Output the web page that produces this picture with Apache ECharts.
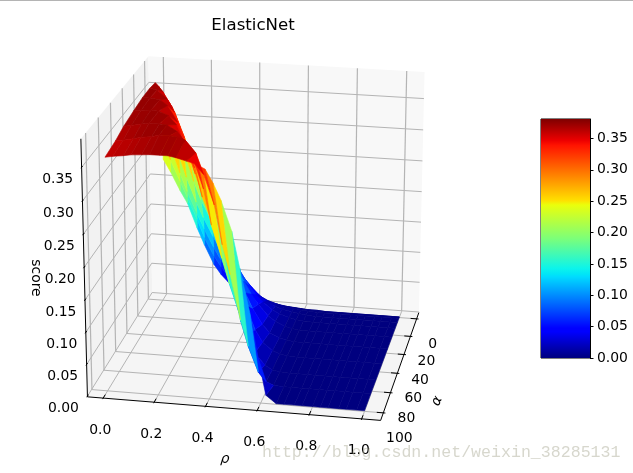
<!DOCTYPE html>
<html><head><meta charset="utf-8">
<style>html,body{margin:0;padding:0;background:#fff}#c{width:633px;height:473px}</style>
<script src="https://cdn.jsdelivr.net/npm/echarts@6/dist/echarts.min.js"></script>
</head><body><div id="c"></div>
<script>
// ---- data ----
const rhoValues = [0.01,0.04,0.08,0.11,0.15,0.18,0.22,0.25,0.28,0.32,0.35,0.39,0.42,0.45,0.49,0.52,0.56,0.59,0.62,0.66,0.69,0.73,0.76,0.80,0.83,0.86,0.90,0.93,0.97,1.00];
const alphaValues = [0.01,0.04,0.4,1.6,6.3,13,23,36,52,69,83,100];
const scoreA0 = [.235,.215,.185,.165,.125,.098,.066,.05,.038,.026,.018,.012,.008,.006,.004,.003,.002,.001,.001,.001,0,0,0,0,0,0,0,0,0,0];
const scoreA1 = [.26,.235,.2,.175,.14,.11,.08,.063,.048,.033,.024,.016,.011,.008,.005,.004,.003,.002,.001,.001,0,0,0,0,0,0,0,0,0,0];
const scoreA2 = [.295,.26,.215,.185,.15,.125,.095,.075,.058,.04,.03,.02,.014,.01,.007,.005,.003,.002,.001,0,0,0,0,0,0,0,0,0,0,0];
const scoreA3 = [.33,.3,.245,.21,.17,.145,.115,.095,.075,.055,.04,.028,.02,.014,.009,.006,.004,.002,.001,0,0,0,0,0,0,0,0,0,0,0];
const scoreA4 = [.36,.34,.30,.26,.21,.18,.15,.125,.105,.08,.06,.042,.03,.02,.012,.008,.005,.003,.001,0,0,0,0,0,0,0,0,0,0,0];
const scoreA5 = [.373,.36,.335,.305,.25,.22,.175,.15,.125,.10,.08,.055,.04,.028,.016,.01,.005,.002,.001,0,0,0,0,0,0,0,0,0,0,0];
const scoreA6 = [.375,.373,.36,.34,.30,.26,.215,.18,.15,.125,.10,.075,.055,.038,.02,.012,.005,.002,0,0,0,0,0,0,0,0,0,0,0,0];
const scoreA7 = [.375,.375,.373,.365,.34,.31,.26,.225,.195,.155,.13,.10,.075,.05,.025,.012,.005,.002,0,0,0,0,0,0,0,0,0,0,0,0];
const scoreA8 = [.372,.374,.375,.374,.368,.355,.32,.29,.245,.205,.17,.14,.11,.08,.04,.02,.008,.003,.001,0,0,0,0,0,0,0,0,0,0,0];
const scoreA9 = [.368,.37,.373,.375,.375,.374,.365,.35,.325,.28,.225,.175,.135,.10,.055,.028,.01,.003,.001,0,0,0,0,0,0,0,0,0,0,0];
const scoreA10 = [.362,.364,.367,.37,.372,.375,.375,.374,.37,.352,.32,.275,.215,.17,.10,.06,.02,.006,.001,0,0,0,0,0,0,0,0,0,0,0];
const scoreA11 = [.358,.36,.362,.364,.365,.366,.366,.366,.364,.36,.357,.35,.33,.305,.26,.205,.135,.07,.012,0,0,0,0,0,0,0,0,0,0,0];
const scoreRows = [scoreA0,scoreA1,scoreA2,scoreA3,scoreA4,scoreA5,scoreA6,scoreA7,scoreA8,scoreA9,scoreA10,scoreA11];
const rhoTicks = [0,0.2,0.4,0.6,0.8,1];
const rhoTickLabels = ['0.0','0.2','0.4','0.6','0.8','1.0'];
const alphaTicks = [0,20,40,60,80,100];
const alphaTickLabels = ['0','20','40','60','80','100'];
const scoreTicks = [0,0.05,0.1,0.15,0.2,0.25,0.3,0.35];
const scoreTickLabels = ['0.00','0.05','0.10','0.15','0.20','0.25','0.30','0.35'];
const scoreMax = 0.381;

// ---- 3D box -> screen scale, fitted on the corners of the box ----
const RHO = [-0.062, 1.072], ALPHA = [-7.3, 107.3], Z = [-0.001, 0.392];
const corners = [
  [0,1,0, 87,398],[1,1,0, 380,420],[1,0,0, 419,313],[0,0,0, 153,292],
  [0,0,1, 147,57],[1,0,1, 425,72],[0,1,1, 82,138]
];
function fit(cs){
  const A=[],b=[];
  cs.forEach(([u,v,w,x,y])=>{
    A.push([u,v,w,1,0,0,0,0,-x*u,-x*v,-x*w]);b.push(x);
    A.push([0,0,0,0,u,v,w,1,-y*u,-y*v,-y*w]);b.push(y);
  });
  const n=11,M=[];
  for(let i=0;i<n;i++){M.push([]);for(let j=0;j<n;j++){let s=i===j?1e-9:0;A.forEach(r=>s+=r[i]*r[j]);M[i].push(s);}
    let s=0;A.forEach((r,k)=>s+=r[i]*b[k]);M[i].push(s);}
  for(let i=0;i<n;i++){let p=i;for(let k=i+1;k<n;k++)if(Math.abs(M[k][i])>Math.abs(M[p][i]))p=k;
    [M[i],M[p]]=[M[p],M[i]];
    for(let k=0;k<n;k++)if(k!==i){const f=M[k][i]/M[i][i];for(let j=i;j<=n;j++)M[k][j]-=f*M[i][j];}}
  return M.map((r,i)=>r[n]/r[i]);
}
const P = fit(corners);
function depth(rho,al,z){const u=(rho-RHO[0])/(RHO[1]-RHO[0]),v=(al-ALPHA[0])/(ALPHA[1]-ALPHA[0]),w=(z-Z[0])/(Z[1]-Z[0]);
  return P[8]*u+P[9]*v+P[10]*w+1;}
function project(rho,al,z){const u=(rho-RHO[0])/(RHO[1]-RHO[0]),v=(al-ALPHA[0])/(ALPHA[1]-ALPHA[0]),w=(z-Z[0])/(Z[1]-Z[0]);
  const d=P[8]*u+P[9]*v+P[10]*w+1;
  return [(P[0]*u+P[1]*v+P[2]*w+P[3])/d,(P[4]*u+P[5]*v+P[6]*w+P[7])/d];}

// jet colormap
const jetStops=[[0,'#00007f'],[0.11,'#0000ff'],[0.125,'#0000ff'],[0.34,'#00dbff'],[0.35,'#00e5f7'],[0.375,'#0cf4eb'],[0.5,'#7cff79'],[0.64,'#eaff0c'],[0.66,'#ffdf00'],[0.89,'#ff1300'],[0.91,'#ed0000'],[1,'#7f0000']];
const jetRGB=jetStops.map(([t,c])=>[t,parseInt(c.slice(1,3),16),parseInt(c.slice(3,5),16),parseInt(c.slice(5,7),16)]);
function jet(t){t=Math.max(0,Math.min(1,t));
  for(let i=1;i<jetRGB.length;i++){if(t<=jetRGB[i][0]){const a=jetRGB[i-1],b=jetRGB[i],f=(t-a[0])/(b[0]-a[0]);
    return 'rgb('+[1,2,3].map(k=>Math.round(a[k]+f*(b[k]-a[k]))).join(',')+')';}}
  return '#7f0000';}

// surface cells, far ones first
const cells=[];
for(let i=0;i<alphaValues.length-1;i++)for(let j=0;j<rhoValues.length-1;j++){
  const q=[[j,i],[j+1,i],[j+1,i+1],[j,i+1]].map(([c,r])=>[rhoValues[c],alphaValues[r],scoreRows[r][c]]);
  const mz=q.reduce((s,p)=>s+p[2],0)/4, md=q.reduce((s,p)=>s+depth(p[0],p[1],p[2]),0)/4;
  cells.push({q,mz,md});
}
const sign=depth(0,ALPHA[0],0)>depth(0,ALPHA[1],0)?-1:1;
cells.sort((a,b)=>sign*(a.md-b.md));

// box items
const GRID='#b4b4b4',BLACK='#000';
const boxItems=[];
const poly=(pts,fill)=>boxItems.push({t:'poly',pts,fill});
const line=(a,b,c,w)=>boxItems.push({t:'line',a,b,c,w});
const A0=ALPHA[0],A1=ALPHA[1],R0=RHO[0],R1=RHO[1],Z0=Z[0],Z1=Z[1];
poly([[R0,A0,Z0],[R0,A1,Z0],[R0,A1,Z1],[R0,A0,Z1]],'#f2f2f2');
poly([[R0,A0,Z0],[R1,A0,Z0],[R1,A0,Z1],[R0,A0,Z1]],'#f8f8f8');
poly([[R0,A0,Z0],[R1,A0,Z0],[R1,A1,Z0],[R0,A1,Z0]],'#f5f5f5');
rhoTicks.forEach(r=>{line([r,A1,Z0],[r,A0,Z0],GRID,1);line([r,A0,Z0],[r,A0,Z1],GRID,1.2);});
alphaTicks.forEach(a=>{line([R1,a,Z0],[R0,a,Z0],GRID,1);line([R0,a,Z0],[R0,a,Z1],GRID,1.2);});
scoreTicks.forEach(s=>{line([R0,A1,s],[R0,A0,s],GRID,1);line([R0,A0,s],[R1,A0,s],GRID,1);});
const axisItems=[];
const aline=(a,b)=>axisItems.push({a,b});
aline([R0,A1,Z0],[R1,A1,Z0]);aline([R1,A1,Z0],[R1,A0,Z0]);aline([R0,A1,Z0],[R0,A1,Z1]);
rhoTicks.forEach(r=>aline([r,A1-3.5,Z0],[r,A1+1,Z0]));
alphaTicks.forEach(a=>aline([R1-0.025,a,Z0],[R1+0.008,a,Z0]));
scoreTicks.forEach(s=>aline([R0,A1-1.5,s],[R0,A1+1,s]));

// text items: each tick label sits at a pixel offset from its tick
const textItems=[];
rhoTicks.forEach((r,i)=>{const p=project(r,A1,Z0);textItems.push({s:rhoTickLabels[i],x:p[0]-3,y:p[1]+32});});
alphaTicks.forEach((a,i)=>{const p=project(R1,a,Z0);textItems.push({s:alphaTickLabels[i],x:p[0]+16,y:p[1]+25.5});});
scoreTicks.forEach((s,i)=>{const p=project(R0,A1,s);textItems.push({s:scoreTickLabels[i],x:p[0]-24,y:p[1]+12});});
textItems.push({s:'\u03c1',x:225,y:459,it:true,rot:-0.1});
textItems.push({s:'\u03b1',x:437,y:401,it:true,rot:1.15});
textItems.push({s:'score',x:36,y:278,rot:-Math.PI/2});

const toPts=(api,pts)=>pts.map(p=>{const s=project(p[0],p[1],p[2]);return api.coord(s);});
const base={type:'custom',xAxisIndex:0,yAxisIndex:0,silent:true,animation:false,clip:false,coordinateSystem:'cartesian2d'};
const idx=a=>a.map((_,i)=>[i,i]);

const option={
  animation:false,
  backgroundColor:'#fff',
  title:{text:'ElasticNet',left:248,top:12,textAlign:'center',textStyle:{fontFamily:'DejaVu Sans',fontSize:16.6,fontWeight:'normal',color:'#000'}},
  grid:[
    {left:0,top:0,width:633,height:473,show:false},
    {left:541,top:119,width:49,height:239,show:true,borderColor:'#000',borderWidth:1,backgroundColor:'transparent'}
  ],
  xAxis:[
    {gridIndex:0,type:'value',min:0,max:633,show:false},
    {gridIndex:1,type:'category',data:['score'],show:false}
  ],
  yAxis:[
    {gridIndex:0,type:'value',min:0,max:473,inverse:true,show:false},
    {gridIndex:1,type:'value',min:0,max:scoreMax,interval:0.05,position:'right',
     axisLine:{show:true,lineStyle:{color:'#000'}},axisTick:{show:true,length:3.5,lineStyle:{color:'#000'}},
     splitLine:{show:false},
     axisLabel:{show:true,color:'#000',fontFamily:'DejaVu Sans',fontSize:13.9,margin:7,showMaxLabel:false,formatter:v=>v.toFixed(2)}}
  ],
  graphic:[
    {type:'rect',left:0,top:0,shape:{width:633,height:1},style:{fill:'#b4b4b4'},silent:true},
    {type:'text',left:262,top:444,z:100,silent:true,style:{text:'http://blog.csdn.net/weixin_38285131',font:'16.6px "Liberation Mono"',fill:'rgba(175,175,155,0.5)'}}
  ],
  series:[
    Object.assign({},base,{name:'box',z:1,data:idx(boxItems),renderItem(params,api){
      const it=boxItems[params.dataIndex];
      if(it.t==='poly')return{type:'polygon',shape:{points:toPts(api,it.pts)},style:{fill:it.fill}};
      const [a,b]=toPts(api,[it.a,it.b]);
      return{type:'line',shape:{x1:a[0],y1:a[1],x2:b[0],y2:b[1]},style:{stroke:it.c,lineWidth:it.w}};
    }}),
    Object.assign({},base,{name:'score surface',z:2,data:idx(cells),renderItem(params,api){
      const c=cells[params.dataIndex],col=jet(c.mz/scoreMax);
      return{type:'polygon',shape:{points:toPts(api,c.q)},style:{fill:col,stroke:col,lineWidth:0.6}};
    }}),
    Object.assign({},base,{name:'axes',z:3,data:idx(axisItems),renderItem(params,api){
      const it=axisItems[params.dataIndex],[a,b]=toPts(api,[it.a,it.b]);
      return{type:'line',shape:{x1:a[0],y1:a[1],x2:b[0],y2:b[1]},style:{stroke:BLACK,lineWidth:1}};
    }}),
    Object.assign({},base,{name:'labels',z:4,data:idx(textItems),renderItem(params,api){
      const t=textItems[params.dataIndex],p=api.coord([t.x,t.y]);
      return{type:'text',x:p[0],y:p[1],rotation:t.rot||0,style:{text:t.s,x:0,y:0,fill:'#000',align:'center',verticalAlign:'middle',
        font:(t.it?'italic ':'')+'13.9px "DejaVu Sans"'}};
    }}),
    {type:'bar',name:'colorbar',xAxisIndex:1,yAxisIndex:1,data:[scoreMax],barWidth:'100%',silent:true,animation:false,
     itemStyle:{color:{type:'linear',x:0,y:1,x2:0,y2:0,colorStops:jetStops.map(([offset,color])=>({offset,color}))}}}
  ]
};
const chart=echarts.init(document.getElementById('c'),null,{renderer:'canvas'});
chart.setOption(option);
</script></body></html>
